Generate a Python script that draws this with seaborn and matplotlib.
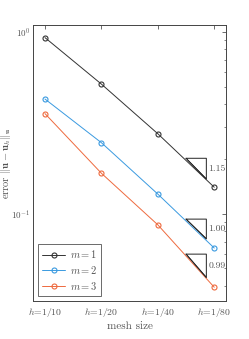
import matplotlib
matplotlib.use("Agg")
import matplotlib.pyplot as plt
import seaborn as sns
import pandas as pd
import numpy as np
from matplotlib.ticker import LogLocator, NullFormatter

# ---- data ----
mesh_labels = ["$h$=1/10", "$h$=1/20", "$h$=1/40", "$h$=1/80"]
err_m1 = [0.93, 0.516, 0.275, 0.1396]
err_m2 = [0.427, 0.2455, 0.128, 0.0646]
err_m3 = [0.355, 0.1667, 0.0867, 0.0393]
series_names = ["$m = 1$", "$m = 2$", "$m = 3$"]
series_colors = ["#333333", "#3a9ae0", "#ee6a3e"]
rates = ["1.15", "1.00", "0.99"]
# slope triangles (x in mesh index, y top / bottom)
tri_x = [2.50, 2.86]
tri_y_top = [0.2015, 0.0932, 0.0598]
tri_y_bot = [0.155, 0.0726, 0.0445]

sns.set_style("white")
plt.rcParams["font.family"] = "serif"
plt.rcParams["font.serif"] = ["cmr10", "DejaVu Serif"]
plt.rcParams["mathtext.fontset"] = "cm"
plt.rcParams["axes.formatter.use_mathtext"] = True

fig = plt.figure(figsize=(2.49, 3.39), dpi=100)
ax = fig.add_axes([0.133, 0.112, 0.775, 0.814])

xs = np.arange(len(mesh_labels))
for name, vals, col in zip(series_names, [err_m1, err_m2, err_m3], series_colors):
    df = pd.DataFrame({"x": xs, "err": vals})
    sns.lineplot(data=df, x="x", y="err", ax=ax, color=col, marker="o",
                 markersize=3.6, markerfacecolor="none", markeredgecolor=col,
                 markeredgewidth=0.8, linewidth=0.7, label=name)

ax.set_yscale("log")
ax.set_xlim(-0.21, 3.21)
ax.set_ylim(0.033, 1.09)
ax.set_xticks(xs)
ax.set_xticklabels(mesh_labels)
ax.yaxis.set_major_locator(LogLocator(base=10, numticks=10))
ax.yaxis.set_minor_locator(LogLocator(base=10, subs=np.arange(2, 10), numticks=10))
ax.yaxis.set_minor_formatter(NullFormatter())

txtcol = "#555555"
for i, (yt, yb, r) in enumerate(zip(tri_y_top, tri_y_bot, rates)):
    ax.plot([tri_x[0], tri_x[1], tri_x[1], tri_x[0]], [yt, yt, yb, yt],
            color="#222222", linewidth=0.7)
    ax.plot([tri_x[0] + 0.02, tri_x[1]], [yt * 0.985, yb * 1.0],
            color="#222222", linewidth=0.6)
    ax.text(tri_x[1] + 0.04, np.sqrt(yt * yb), r, fontsize=7, color=txtcol,
            va="center", ha="left")

ax.tick_params(which="both", direction="in", top=True, right=True,
               colors="#555555", labelcolor=txtcol)
ax.tick_params(axis="x", labelsize=7)
ax.tick_params(axis="y", labelsize=6.5, pad=2)
ax.tick_params(which="major", length=3, width=0.6)
ax.tick_params(which="minor", length=1.8, width=0.5)
for s in ax.spines.values():
    s.set_color("#444444")
    s.set_linewidth(0.7)

ax.set_xlabel("mesh size", fontsize=8, color=txtcol, labelpad=2)
ax.set_ylabel(r"error $\|\mathbf{u}-\mathbf{u}_h\|_{\mathbf{u}}$", fontsize=7.5,
              color=txtcol)
ax.yaxis.set_label_coords(-0.105, 0.5)

leg = ax.legend(loc="lower left", fontsize=7.5, frameon=True, fancybox=False,
                edgecolor="#444444", borderpad=0.4, handlelength=2.2,
                labelspacing=0.35, borderaxespad=0.5, handletextpad=0.4)
leg.get_frame().set_linewidth(0.7)
for t in leg.get_texts():
    t.set_color(txtcol)

fig.savefig("out.png", dpi=100)
